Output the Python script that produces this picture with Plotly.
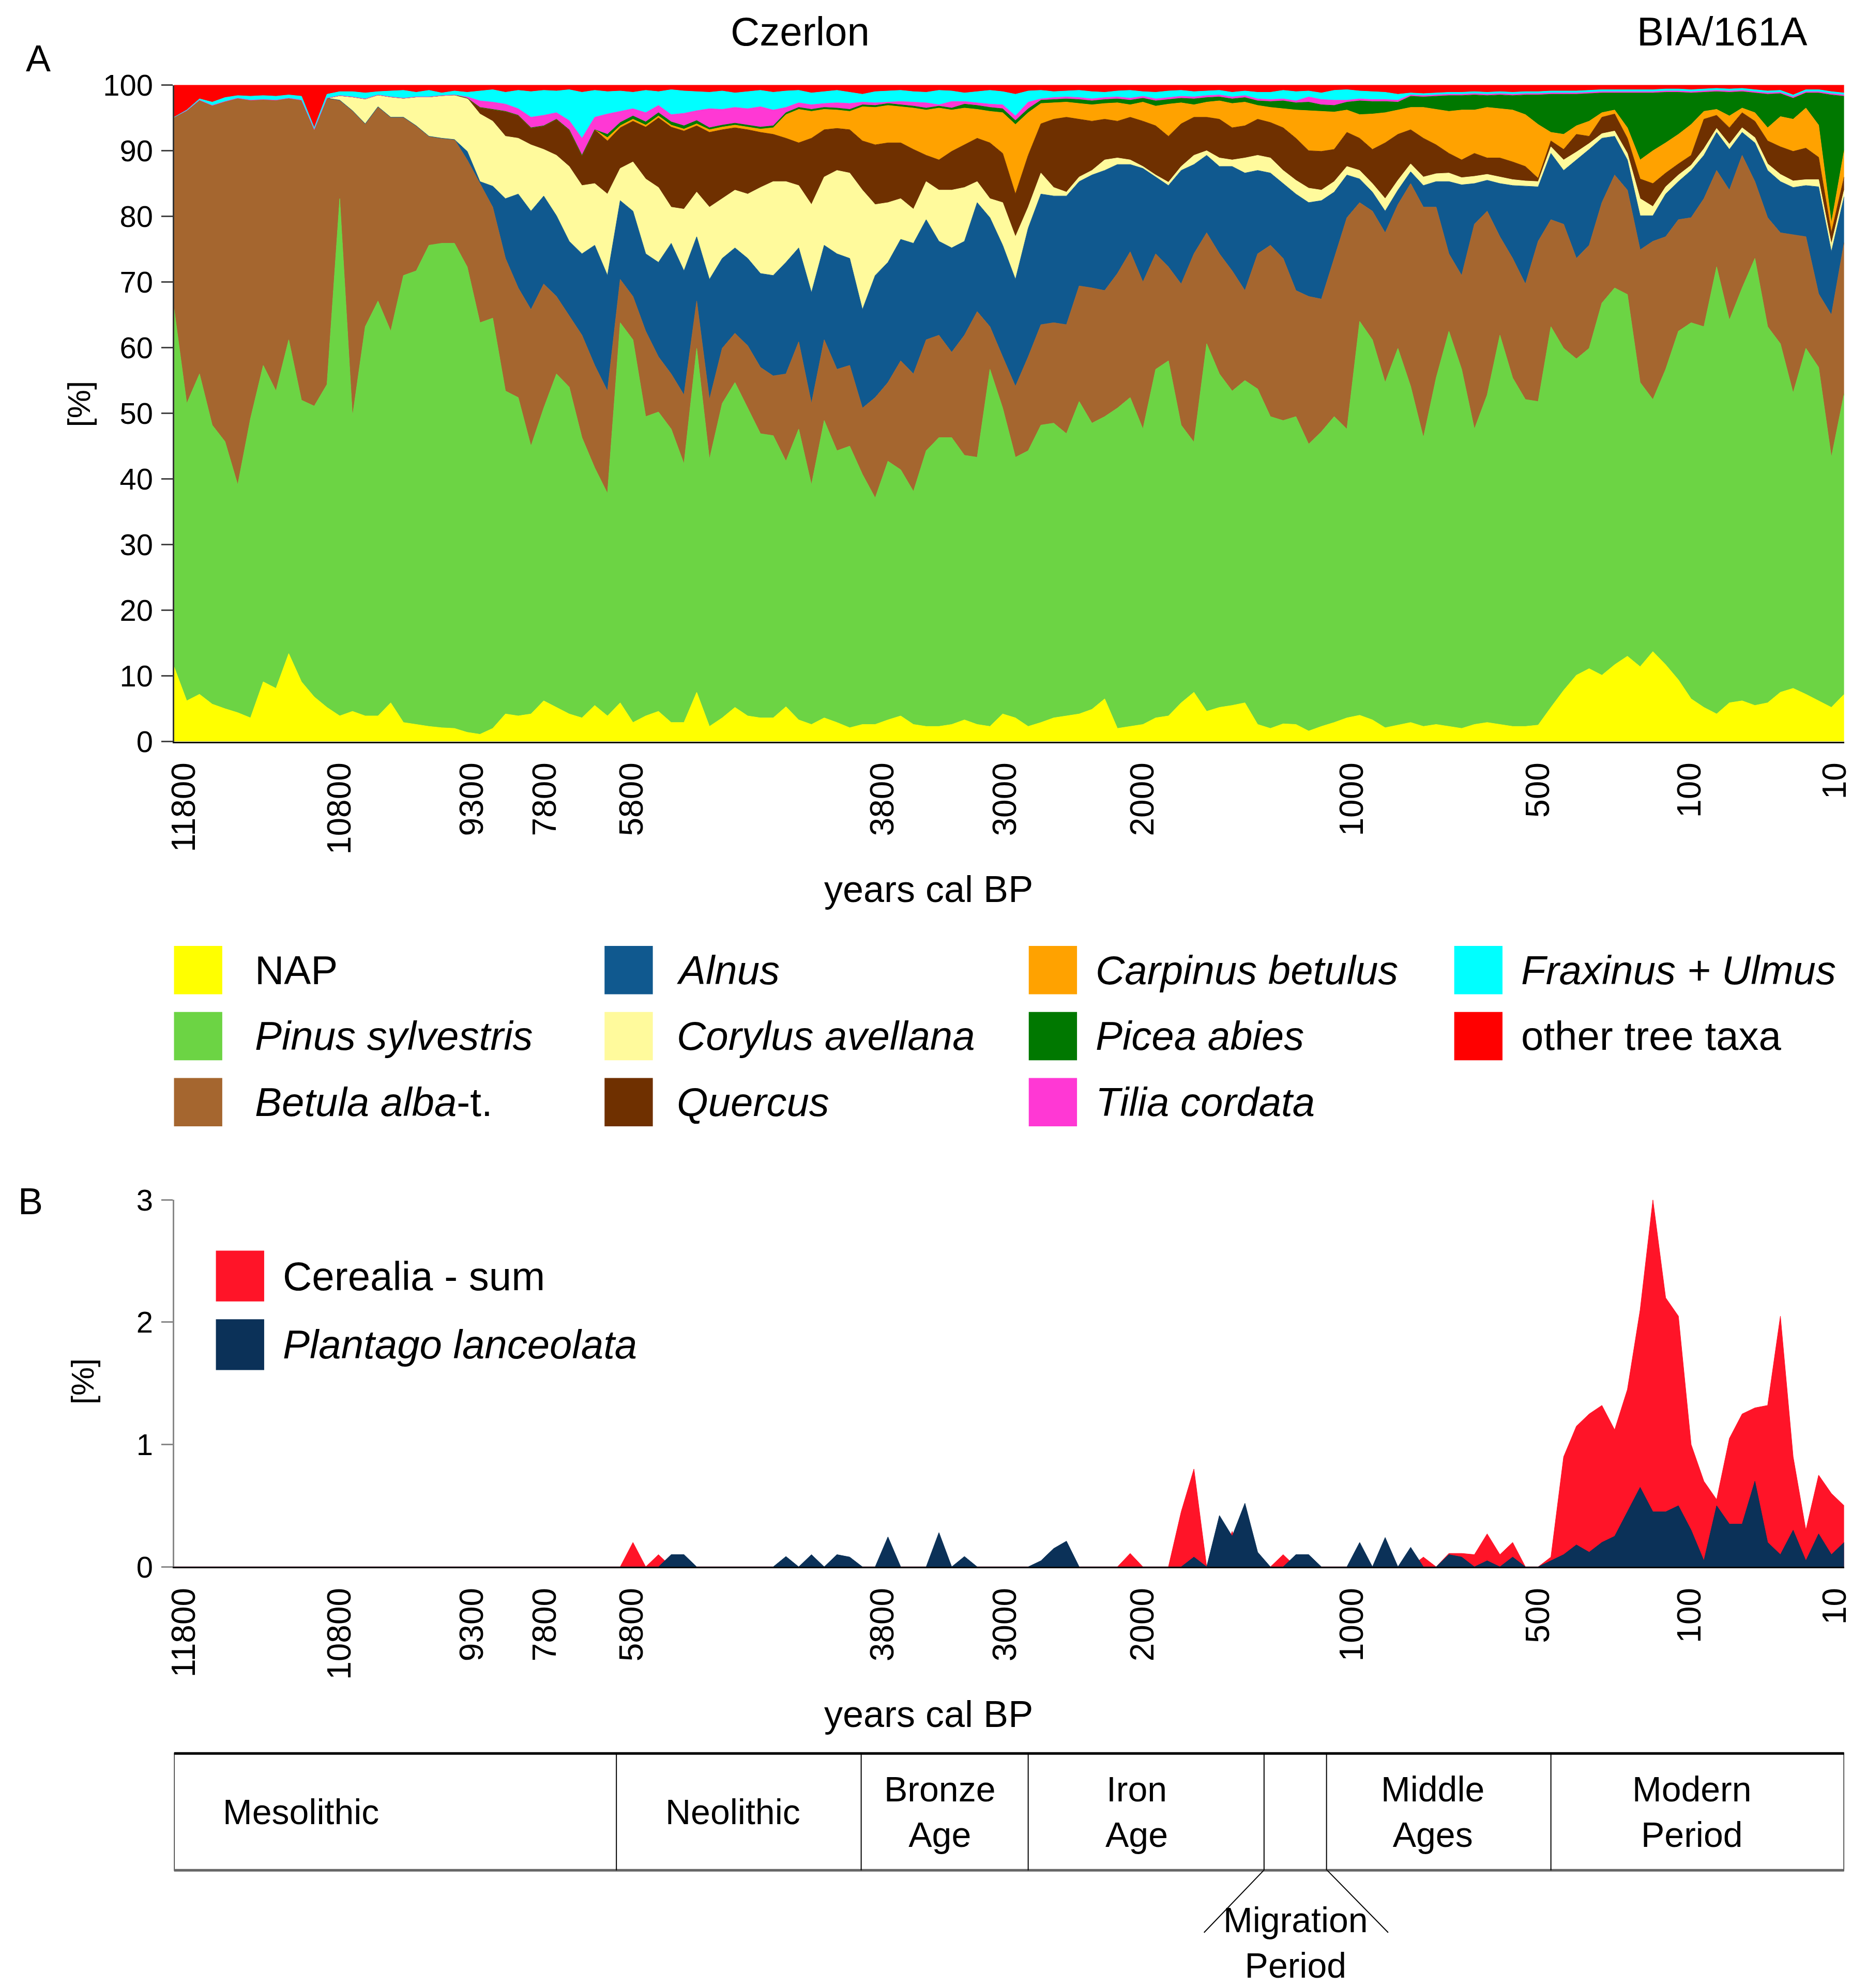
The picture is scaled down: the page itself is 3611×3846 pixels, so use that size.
import plotly.graph_objects as go

# ---------------- DATA ----------------
# sample number along the core (x axis is sample-based, ages are only tick labels)
sample_no = list(range(132))

# age tick labels (years cal BP) and the sample position where each label sits
tick_text = ["11800", "10800", "9300", "7800", "5800", "3800", "3000", "2000", "1000", "500", "100", "10"]
tick_pos = [0.8, 13.0, 23.4, 29.1, 35.9, 55.6, 65.2, 76.0, 92.4, 107.0, 118.9, 130.3]

# Panel A: cumulative percentages (upper edge of each taxon band, stacked bottom -> top)
cum_nap = [11.4, 6.2, 7.2, 5.7, 5.0, 4.4, 3.6, 9.1, 8.1, 13.4, 9.1, 6.8, 5.2, 3.9, 4.6, 3.9, 3.9, 5.9, 2.9, 2.6, 2.3, 2.1, 2.0, 1.4, 1.1, 2.0, 4.2, 3.9, 4.2, 6.2, 5.2, 4.2, 3.6, 5.5, 3.9, 5.9, 2.9, 3.9, 4.6, 2.9, 2.9, 7.5,
           2.3, 3.6, 5.2, 3.9, 3.6, 3.6, 5.3, 3.3, 2.6, 3.6, 2.9, 2.1, 2.6, 2.6, 3.3, 3.9, 2.6, 2.3, 2.3, 2.6, 3.3, 2.6, 2.3, 4.2, 3.6, 2.3, 2.9, 3.6, 3.9, 4.2, 4.9, 6.5, 2.0, 2.3, 2.6, 3.6, 3.9, 5.9, 7.5, 4.6, 5.2, 5.5, 5.9,
           2.6, 2.0, 2.7, 2.6, 1.6, 2.3, 2.9, 3.6, 4.0, 3.3, 2.1, 2.5, 2.9, 2.3, 2.6, 2.3, 2.0, 2.6, 2.9, 2.6, 2.3, 2.3, 2.5, 5.2, 7.8, 10.1, 11.1, 10.1, 11.7, 13.0, 11.4, 13.7, 11.7, 9.4, 6.5, 5.2, 4.2, 5.9, 6.2, 5.5, 5.9, 7.5, 8.1, 7.2, 6.2, 5.2, 7.2]

cum_pinus = [66, 51.5, 56, 48.2, 45.7, 39.1, 49.2, 57.3, 53.4, 61.2, 52, 51.1, 54.4, 82.7, 49.5, 63.2, 67.1, 62.5, 71, 71.7, 75.6, 75.9, 75.9, 72.3, 63.8, 64.5, 53.4, 52.4, 45, 50.8, 56, 54, 46.3, 41.7, 37.8, 63.8, 61.2, 49.5, 50.2, 47.6, 42.3, 59.9,
             43, 51.5, 54.7, 50.8, 46.9, 46.6, 42.7, 47.6, 39.1, 48.9, 44.3, 45, 40.7, 37.1, 42.7, 41.4, 38.1, 44.3, 46.3, 46.3, 43.6, 43.3, 56.7, 50.8, 43.3, 44.3, 48.2, 48.5, 46.9, 51.8, 48.5, 49.5, 50.8, 52.4, 47.6, 56.7, 58, 48.2, 45.6, 60.6, 56, 53.4, 55,
             53.7, 49.5, 48.9, 49.5, 45.3, 47.2, 49.5, 47.6, 64, 61.2, 54.7, 59.9, 54.1, 46.3, 55.4, 62.5, 56.7, 47.6, 52.8, 61.9, 55.4, 52.1, 51.8, 63.2, 59.9, 58.3, 59.9, 66.8, 69.1, 68.1, 54.7, 52.1, 56.7, 62.5, 63.8, 63.2, 72.3, 64.2, 69.1, 73.6, 63.2, 60.6, 53.1, 59.9, 57.0, 43.3, 53.0]

cum_betula = [95.1, 96.1, 97.7, 96.9, 97.5, 98, 97.7, 97.8, 97.7, 98, 97.7, 93.2, 98, 97.7, 96.1, 94.1, 96.7, 95.1, 95.1, 93.8, 92.2, 91.9, 91.7, 88.6, 85, 81.4, 73.6, 69.1, 65.8, 69.7, 67.8, 64.8, 61.9, 57.3, 53.4, 70.4, 67.8, 62.5, 58.6, 56, 52.8, 67.1,
              52.1, 59.9, 62.2, 60.3, 57, 55.7, 56, 60.9, 51.5, 61.2, 56.7, 57.3, 50.8, 52.4, 54.7, 58, 56, 61.2, 61.9, 59.3, 61.9, 65.5, 63.2, 58.6, 54.1, 58.6, 63.5, 63.8, 63.5, 69.4, 69.1, 68.7, 71.3, 74.6, 70, 74.3, 72.3, 69.7, 74.3, 77.5, 74.3, 71.7, 68.7,
              74.3, 75.6, 73.6, 68.7, 67.8, 67.4, 73.6, 79.8, 82.1, 80.8, 77.5, 81.8, 85, 81.4, 81.4, 74.3, 71, 78.8, 80.8, 76.9, 73.6, 69.7, 76.2, 79.5, 78.8, 73.6, 75.6, 82.1, 86.3, 84, 74.9, 76.2, 76.9, 79.5, 79.8, 82.7, 87, 84, 89.3, 85.3, 79.8, 77.5, 77.2, 76.9, 68.2, 65.0, 76.0]

cum_alnus = [95.1, 96.1, 97.7, 96.9, 97.5, 98, 97.7, 97.8, 97.7, 98, 97.7, 93.2, 98, 97.7, 96.1, 94.1, 96.7, 95.1, 95.1, 93.8, 92.2, 91.9, 91.7,
             89.9, 85.3, 84.6, 82.7, 83.4, 80.8, 83.1, 80.1, 76.2, 74.3, 75.6, 71, 82.4, 80.8, 74.3, 73, 75.9, 71.7, 76.9,
             70.4, 73.6, 75.2, 73.6, 71.3, 71, 73, 75.2, 68.4, 75.6, 74.3, 73.6, 65.8, 71, 73, 76.5, 75.9, 79.5, 76.2, 75.2, 76.2, 82.1, 79.8, 75.6, 70.4, 78.2, 83.4, 83.1, 83.1, 85.3, 86.3, 87, 87.9, 87.9, 87.3, 86, 84.7, 87, 87.9, 89.3, 87.6, 87.6, 86.6,
             87, 86.6, 85, 83.4, 82.1, 82.4, 83.7, 86.3, 85.7, 83.7, 80.8, 84, 86.8, 84.7, 85.3, 85.3, 84.8, 85, 85.5, 85, 84.7, 84.6, 84.5, 89.6, 87, 88.6, 90.2, 91.9, 92.2, 88.6, 80.1, 80.1, 83.4, 85.3, 87, 89.3, 92.8, 90.2, 92.8, 91.2, 87, 85.3, 84.4, 84.7, 84.5, 74.6, 83.0]

cum_corylus = [95.1, 96.1, 97.7, 96.9, 97.5, 98, 97.7, 97.8, 97.7, 98, 97.7, 93.2, 98,
               98.4, 98.2, 97.9, 98.5, 98.2, 98, 98.2, 98.2, 98.4, 98.5, 98, 95.6, 94.5, 92.2, 91.9, 90.9, 90.2, 89.3, 87.6, 84.7, 85, 83.4, 87.3, 88.3, 85.7, 84.4, 81.4, 81.1, 83.7,
               81.4, 82.7, 84, 83.4, 84.4, 85.3, 85.3, 84.7, 81.8, 86, 87, 86.6, 84, 81.8, 82.1, 82.7, 81.1, 85.3, 84, 84, 84.4, 85.3, 82.7, 82.1, 76.9, 81.4, 86.6, 84.4, 83.7, 86, 87, 88.6, 88.9, 88.6, 87.6, 86.3, 85.2, 87.6, 89.3, 90, 88.9, 88.6, 88.9,
               89.3, 88.9, 87.0, 85.5, 84.3, 84.0, 85.3, 87.6, 87.0, 85.0, 82.7, 85.5, 88.0, 86.0, 86.5, 86.6, 85.9, 86.1, 86.4, 86.0, 85.6, 85.4, 85.3, 90.6, 88.6, 89.8, 91.1, 92.6, 93.0, 89.6, 82.7, 81.5, 84.5, 86.3, 87.8, 90.3, 93.4, 91.0, 93.5, 92.0, 88.0, 86.4, 85.4, 85.6, 85.6, 75.8, 84.0]

cum_quercus = [95.1, 96.1, 97.7, 96.9, 97.5, 98, 97.7, 97.8, 97.7, 98, 97.7, 93.2, 98, 98.4, 98.2, 97.9, 98.5, 98.2, 98, 98.2, 98.2, 98.4, 98.5,
               98, 96.6, 96.3, 96.0, 95.4, 93.5, 93.8, 94.8, 93.2, 89.3, 93.2, 91.5, 93.5, 94.5, 93.6, 95.0, 93.6, 93.0, 93.8,
               92.8, 93.2, 93.5, 93.2, 92.8, 92.5, 91.9, 91.2, 91.9, 93.2, 93.4, 93.2, 91.5, 90.9, 91.2, 91.2, 90.2, 89.3, 88.6, 89.9, 90.9, 91.9, 91.2, 89.6, 83.4, 89.3, 94.1, 94.8, 95.1, 94.8, 94.5, 94.8, 94.5, 95.1, 94.5, 93.8, 92.2, 94.1, 95.1, 95.1, 94.8, 93.5, 93.8,
               94.8, 94.3, 93.5, 91.9, 90, 89.9, 90.2, 92.8, 91.9, 90.2, 91.2, 92.5, 93.2, 91.9, 90.9, 89.6, 88.6, 89.6, 88.9, 88.9, 88.3, 87.6, 85.8, 91.5, 90.2, 92.5, 92.2, 95.1, 95.6, 91.9, 85.7, 85, 86.6, 88, 89.3, 94.8, 95.4, 93.5, 95.8, 94.5, 91.5, 90.6, 89.9, 90.4, 89.0, 77.5, 86.0]

cum_carpinus = [95.1, 96.1, 97.7, 96.9, 97.5, 98, 97.7, 97.8, 97.7, 98, 97.7, 93.2, 98, 98.4, 98.2, 97.9, 98.5, 98.2, 98, 98.2, 98.2, 98.4, 98.5,
                98, 96.6, 96.3, 96.0, 95.4, 93.5, 93.8, 94.8, 93.2, 89.3, 93.2, 92.0, 93.8, 94.8, 93.9, 95.3, 93.9, 93.3, 94.1,
                93.2, 93.6, 93.9, 93.6, 93.3, 93.5, 95.5, 96.3, 96.0, 96.3, 96.2, 96.0, 96.7, 96.6, 96.9, 96.7, 96.5, 96.2, 96.5, 96.2, 96.5, 96.3, 96.0, 95.8, 94.0, 95.8, 97.2, 97.3, 97.4, 97.2, 97.0, 97.2, 97.3, 97.0, 97.4, 96.8, 97.1, 97.3, 97.0, 97.4, 97.6, 97.2, 97.4,
                96.9, 96.6, 96.4, 96.2, 96.1, 96.0, 95.9, 96.2, 95.5, 95.6, 95.8, 96.2, 96.6, 96.6, 96.3, 96.0, 96.2, 96.2, 96.6, 96.4, 96.2, 95.5, 94.0, 92.8, 92.5, 93.8, 94.5, 95.8, 96.2, 93.5, 88.6, 90.0, 91.2, 92.5, 94.0, 96.0, 96.3, 95.3, 96.5, 95.8, 93.5, 95.2, 94.8, 96.5, 93.9, 79.0, 90.0]

cum_picea = [95.1, 96.1, 97.7, 96.9, 97.5, 98, 97.7, 97.8, 97.7, 98, 97.7, 93.2, 98, 98.4, 98.2, 97.9, 98.5, 98.2, 98, 98.2, 98.2, 98.4, 98.5,
             98, 96.6, 96.3, 96.0, 95.4, 93.5, 93.8, 94.8, 93.2, 89.3, 93.2, 92.5, 94.3, 95.3, 94.4, 95.8, 94.4, 93.8, 94.6,
             93.5, 93.9, 94.2, 93.9, 93.6, 93.8, 95.8, 96.6, 96.3, 96.6, 96.5, 96.3, 97.0, 96.9, 97.2, 97.0, 96.8, 96.5, 96.8, 96.5, 97.1, 96.9, 96.6, 96.4, 94.6, 96.4, 97.7, 97.8, 97.9, 97.8, 97.6, 97.8, 97.9, 97.7, 98.0, 97.6, 97.8, 98.0, 97.9, 98.1, 98.2, 97.9, 98.1,
             97.6, 97.5, 97.6, 97.3, 97.4, 97.0, 96.9, 97.4, 97.6, 97.5, 97.5, 97.4, 98.3, 98.2, 98.3, 98.4, 98.4, 98.5, 98.4, 98.5, 98.4, 98.5, 98.5, 98.6, 98.6, 98.6, 98.7, 98.8, 98.8, 98.8, 98.8, 98.8, 98.9, 98.9, 98.8, 98.9, 99.0, 98.9, 99.0, 98.8, 98.6, 98.7, 98.0, 98.8, 98.8, 98.5, 98.3]

cum_tilia = [95.1, 96.1, 97.7, 96.9, 97.5, 98, 97.7, 97.8, 97.7, 98, 97.7, 93.2, 98, 98.4, 98.2, 97.9, 98.5, 98.2, 98, 98.2, 98.2, 98.4, 98.5,
             98.2, 97.6, 97.4, 97.1, 96.4, 95.1, 95.4, 95.8, 94.6, 91.9, 95.1, 95.6, 96.0, 96.4, 95.8, 96.9, 95.5, 95.7, 96.1,
             96.4, 96.3, 96.6, 96.4, 96.7, 96.2, 96.6, 97.3, 97.0, 97.2, 97.3, 97.2, 97.4, 97.3, 97.4, 97.5, 97.4, 97.3, 97.0, 97.5, 97.5, 97.3, 97.1, 97.0, 95.3, 97.4, 97.9, 98.1, 98.2, 98.1, 97.9, 98.1, 98.2, 98.0, 98.3, 97.9, 98.1, 98.3, 98.2, 98.4, 98.5, 98.2, 98.4,
             97.9, 97.8, 97.9, 97.6, 98.2, 97.8, 97.7, 97.7, 97.9, 97.8, 97.8, 97.7, 98.5, 98.4, 98.5, 98.6, 98.6, 98.7, 98.6, 98.7, 98.6, 98.7, 98.7, 98.8, 98.8, 98.8, 98.9, 99.0, 99.0, 99.0, 99.0, 99.0, 99.1, 99.1, 99.0, 99.1, 99.2, 99.1, 99.2, 99.0, 98.8, 98.9, 98.2, 99.0, 99.0, 98.7, 98.5]

cum_fraxinus = [95.1, 96.2, 97.9, 97.4, 98.1, 98.4, 98.3, 98.4, 98.3, 98.5, 98.3, 93.5, 98.6, 99.0, 99.0, 98.8, 99.0, 99.1, 99.2, 98.9, 99.2, 98.8, 99.1, 98.9, 99.1, 99.3, 98.9, 99.2, 99.0, 99.2, 99.1, 99.3, 98.9, 99.2, 99.0, 99.1, 98.9, 99.2, 99.0, 99.3, 99.1, 99.0,
                98.9, 99.1, 98.8, 99.0, 99.2, 98.9, 99.1, 99.2, 98.8, 99.0, 99.2, 98.9, 98.6, 99.0, 99.1, 99.2, 99.0, 98.9, 99.2, 99.1, 98.8, 99.0, 99.2, 99.0, 98.6, 99.1, 99.2, 99.0, 99.1, 99.2, 99.0, 98.9, 99.1, 99.2, 99.0, 98.9, 99.1, 99.2, 99.0, 99.1, 99.2, 98.9, 99.1,
                98.9, 98.9, 99.2, 99.0, 99.1, 98.8, 99.2, 99.3, 99.1, 99.0, 98.9, 98.6, 98.8, 98.7, 98.8, 98.9, 98.9, 99.0, 98.9, 99.0, 98.9, 99.0, 99.0, 99.1, 99.1, 99.1, 99.2, 99.3, 99.3, 99.3, 99.3, 99.3, 99.4, 99.4, 99.3, 99.4, 99.5, 99.4, 99.5, 99.3, 99.1, 99.2, 98.5, 99.3, 99.3, 99.0, 98.8]

# "other tree taxa" closes every spectrum at 100 %
cum_total = [100.0] * len(sample_no)

# Panel B: Cerealia (sum) and Plantago lanceolata, % per sample
cerealia_sum = [
    0, 0, 0, 0, 0, 0, 0, 0, 0, 0, 0, 0,
    0, 0, 0, 0, 0, 0, 0, 0, 0, 0, 0, 0,
    0, 0, 0, 0, 0, 0, 0, 0, 0, 0, 0, 0,
    0.2, 0, 0.1, 0, 0, 0, 0, 0, 0, 0, 0, 0,
    0, 0, 0, 0, 0, 0, 0, 0, 0, 0, 0, 0,
    0, 0, 0, 0, 0, 0, 0, 0, 0, 0, 0, 0,
    0, 0, 0, 0.11, 0, 0, 0, 0.45, 0.8, 0, 0, 0.29,
    0, 0, 0, 0.1, 0, 0, 0, 0, 0, 0, 0, 0,
    0, 0, 0.08, 0, 0.11, 0.11, 0.1, 0.27, 0.1, 0.2, 0, 0,
    0.08, 0.9, 1.15, 1.25, 1.32, 1.12, 1.45, 2.1, 3.0, 2.2, 2.05, 1.0,
    0.7, 0.55, 1.05, 1.25, 1.3, 1.32, 2.05, 0.9, 0.3, 0.75, 0.6, 0.5,
]
plantago_lanceolata = [
    0, 0, 0, 0, 0, 0, 0, 0, 0, 0, 0, 0,
    0, 0, 0, 0, 0, 0, 0, 0, 0, 0, 0, 0,
    0, 0, 0, 0, 0, 0, 0, 0, 0, 0, 0, 0,
    0, 0, 0, 0.1, 0.1, 0, 0, 0, 0, 0, 0, 0,
    0.085, 0, 0.1, 0, 0.1, 0.08, 0, 0, 0.245, 0, 0, 0,
    0.28, 0, 0.085, 0, 0, 0, 0, 0, 0.05, 0.15, 0.21, 0,
    0, 0, 0, 0, 0, 0, 0, 0, 0.08, 0, 0.42, 0.25,
    0.52, 0.12, 0, 0, 0.1, 0.1, 0, 0, 0, 0.2, 0, 0.24,
    0, 0.16, 0, 0, 0.1, 0.08, 0, 0.05, 0, 0.08, 0, 0,
    0.05, 0.1, 0.18, 0.12, 0.2, 0.25, 0.45, 0.65, 0.45, 0.45, 0.5, 0.3,
    0.05, 0.5, 0.35, 0.35, 0.7, 0.2, 0.1, 0.3, 0.05, 0.27, 0.1, 0.2,
]

# archaeological periods: label, start / end in sample units
periods = [("Mesolithic", 0, 34.7), ("Neolithic", 34.7, 53.9), ("Bronze<br>Age", 53.9, 67.0),
           ("Iron<br>Age", 67.0, 85.5), ("", 85.5, 90.4), ("Middle<br>Ages", 90.4, 108.0),
           ("Modern<br>Period", 108.0, 131.0)]

# ---------------- STYLE / LAYOUT ----------------
W, H = 3611, 3846
REF = 1470.0          # reference measured at 1470 px wide
SC = W / REF
FONT = "Liberation Sans, Arial, sans-serif"


def px(d):
    return d / REF


def py(d):
    return 1 - d * SC / H


layers = [
    ("NAP", cum_nap, "#FFFF00"),
    ("Pinus sylvestris", cum_pinus, "#6CD444"),
    ("Betula alba-t.", cum_betula, "#A5662F"),
    ("Alnus", cum_alnus, "#10598F"),
    ("Corylus avellana", cum_corylus, "#FFFA9C"),
    ("Quercus", cum_quercus, "#6F3000"),
    ("Carpinus betulus", cum_carpinus, "#FFA200"),
    ("Picea abies", cum_picea, "#007800"),
    ("Tilia cordata", cum_tilia, "#FF38D4"),
    ("Fraxinus + Ulmus", cum_fraxinus, "#00FFFF"),
    ("other tree taxa", cum_total, "#FF0000"),
]

fig = go.Figure()
for i, (name, ys, col) in enumerate(layers):
    fig.add_trace(go.Scatter(
        x=sample_no, y=ys, mode="lines", name=name,
        line=dict(color=col, width=1),
        fill="tozeroy" if i == 0 else "tonexty", fillcolor=col,
        showlegend=False, hoverinfo="skip", xaxis="x", yaxis="y"))

fig.add_trace(go.Scatter(x=sample_no, y=cerealia_sum, mode="lines", name="Cerealia - sum",
                         line=dict(color="#FF1428", width=1), fill="tozeroy", fillcolor="#FF1428",
                         showlegend=False, hoverinfo="skip", xaxis="x2", yaxis="y2"))
fig.add_trace(go.Scatter(x=sample_no, y=plantago_lanceolata, mode="lines", name="Plantago lanceolata",
                         line=dict(color="#0B3158", width=1), fill="tozeroy", fillcolor="#0B3158",
                         showlegend=False, hoverinfo="skip", xaxis="x2", yaxis="y2"))

xdom = [px(137), px(1452)]
xaxis_common = dict(domain=xdom, range=[0, 131], showline=True, linecolor="#000", linewidth=3,
                    showgrid=False, zeroline=False, ticks="", tickvals=tick_pos, ticktext=tick_text,
                    tickangle=-90, tickfont=dict(family=FONT, size=64, color="#000"),
                    ticklabelstandoff=12, automargin=False, fixedrange=True)
yaxis_common = dict(ticks="outside", ticklen=22, tickwidth=3, showgrid=False, zeroline=False,
                    showline=True, linewidth=3, automargin=False, fixedrange=True,
                    tickfont=dict(family=FONT, size=58, color="#000"), ticklabelstandoff=4)
fig.update_layout(
    width=W, height=H, autosize=False,
    margin=dict(l=0, r=0, t=0, b=0, pad=0, autoexpand=False),
    paper_bgcolor="white", plot_bgcolor="white",
    font=dict(family=FONT, color="#000"),
    showlegend=False,
    xaxis=dict(anchor="y", **xaxis_common),
    xaxis2=dict(anchor="y2", **xaxis_common),
    yaxis=dict(domain=[py(584), py(67)], anchor="x", range=[0, 100], tickvals=list(range(0, 101, 10)),
               tickcolor="#444", linecolor="#333", **yaxis_common),
    yaxis2=dict(domain=[py(1234), py(945)], anchor="x2", range=[0, 3], tickvals=[0, 1, 2, 3],
                tickcolor="#888", linecolor="#888", **yaxis_common),
)

ann = []
shapes = []


def text(t, x, y, size, xanchor="center", angle=0):
    ann.append(dict(text=t, x=px(x), y=py(y), xref="paper", yref="paper", showarrow=False,
                    xanchor=xanchor, yanchor="middle", textangle=angle,
                    font=dict(family=FONT, size=size, color="#000")))


text("Czerlon", 630, 25, 78)
text("BIA/161A", 1356, 25, 78)
text("A", 30, 46, 72)
text("B", 24, 946, 72)
text("[%]", 62, 318, 62, angle=-90)
text("[%]", 65, 1088, 62, angle=-90)
text("years cal BP", 731, 700, 72)
text("years cal BP", 731, 1350, 72)

# legend of panel A (4 columns)
leg_cols = [(137, 200), (476, 532), (810, 862), (1145, 1197)]
leg_rows = [764, 816, 868]
leg_items = [
    ("NAP", 0, 0, 0), ("<i>Pinus sylvestris</i>", 1, 0, 1), ("<i>Betula alba</i>-t.", 2, 0, 2),
    ("<i>Alnus</i>", 3, 1, 0), ("<i>Corylus avellana</i>", 4, 1, 1), ("<i>Quercus</i>", 5, 1, 2),
    ("<i>Carpinus betulus</i>", 6, 2, 0), ("<i>Picea abies</i>", 7, 2, 1), ("<i>Tilia cordata</i>", 8, 2, 2),
    ("<i>Fraxinus + Ulmus</i>", 9, 3, 0), ("other tree taxa", 10, 3, 1),
]
for label, li, c, r in leg_items:
    sx, tx = leg_cols[c]
    yc = leg_rows[r]
    shapes.append(dict(type="rect", xref="paper", yref="paper", x0=px(sx), x1=px(sx + 38),
                       y0=py(yc + 19), y1=py(yc - 19), fillcolor=layers[li][2], line=dict(width=0)))
    text(label, tx, yc, 78, xanchor="left")

# legend of panel B
for label, col, yc in [("Cerealia - sum", "#FF1428", 1005), ("<i>Plantago lanceolata</i>", "#0B3158", 1059)]:
    shapes.append(dict(type="rect", xref="paper", yref="paper", x0=px(170), x1=px(208),
                       y0=py(yc + 20), y1=py(yc - 20), fillcolor=col, line=dict(width=0)))
    text(label, 222, yc, 78, xanchor="left")

# period table
t_top, t_bot = 1381, 1473
shapes.append(dict(type="rect", xref="x2", yref="paper", x0=0, x1=131, y0=py(t_bot), y1=py(t_top),
                   line=dict(color="#000", width=2.5), fillcolor="rgba(0,0,0,0)"))
shapes.append(dict(type="line", xref="x2", yref="paper", x0=0, x1=131, y0=py(t_top), y1=py(t_top),
                   line=dict(color="#000", width=5)))
shapes.append(dict(type="line", xref="x2", yref="paper", x0=0, x1=131, y0=py(t_bot), y1=py(t_bot),
                   line=dict(color="#666", width=5)))
for name, s, e in periods[1:]:
    shapes.append(dict(type="line", xref="x2", yref="paper", x0=s, x1=s, y0=py(t_bot), y1=py(t_top),
                       line=dict(color="#000", width=2)))
# horizontal label positions (px of the 1470-wide view)
label_x = {"Mesolithic": 237, "Neolithic": 577, "Bronze<br>Age": 740, "Iron<br>Age": 895,
           "Middle<br>Ages": 1128, "Modern<br>Period": 1332}
for name, s, e in periods:
    if not name:
        continue
    text(name, label_x[name], 1427, 68)
# Migration Period call-out
shapes.append(dict(type="line", xref="paper", yref="paper", x0=px(995), y0=py(1473), x1=px(948), y1=py(1522),
                   line=dict(color="#000", width=2)))
shapes.append(dict(type="line", xref="paper", yref="paper", x0=px(1045), y0=py(1473), x1=px(1093), y1=py(1522),
                   line=dict(color="#000", width=2)))
text("Migration<br>Period", 1020, 1530, 68)

fig.update_layout(annotations=ann, shapes=shapes)

fig.write_html("out.html", config={"displayModeBar": False},
               post_script="document.body.style.margin='0';document.body.style.overflow='hidden';")
